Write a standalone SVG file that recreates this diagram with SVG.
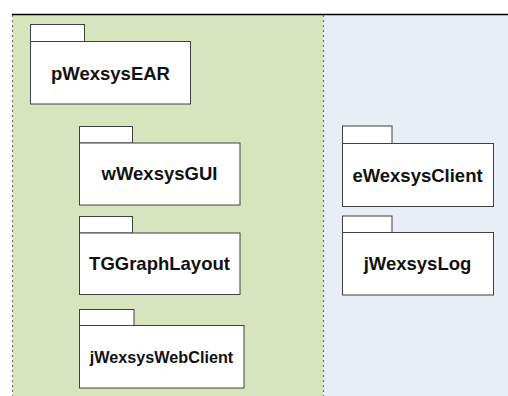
<svg xmlns="http://www.w3.org/2000/svg" width="508" height="396" viewBox="0 0 508 396">
  <style>
    .pkg rect { fill: #ffffff; stroke: #404040; stroke-width: 1; }
    .pkg text { font-family: "Liberation Sans", Arial, sans-serif; font-weight: bold; fill: #111111; text-anchor: middle; }
    .lane-sep { stroke: #707070; stroke-width: 1.2; stroke-dasharray: 2 3; fill: none; }
  </style>
  <rect width="508" height="396" fill="#ffffff"/>
  <!-- swimlane backgrounds -->
  <rect x="12.5" y="14.5" width="310.5" height="382" fill="#D7E4BD"/>
  <rect x="323" y="14.5" width="185" height="382" fill="#E9EDF5"/>
  <line class="lane-sep" x1="12.5" y1="15" x2="12.5" y2="396"/>
  <line class="lane-sep" x1="323.5" y1="15" x2="323.5" y2="396"/>
  <line x1="12" y1="14.5" x2="508" y2="14.5" stroke="#000000" stroke-width="1.5"/>

  <g id="pWexsysEAR" class="pkg">
    <rect x="30.5" y="24.5" width="54" height="17"/>
    <rect x="30.5" y="41.5" width="160" height="62.5"/>
    <text x="110.5" y="80" font-size="18.5">pWexsysEAR</text>
  </g>
  <g id="wWexsysGUI" class="pkg">
    <rect x="79.5" y="126.5" width="53" height="16.5"/>
    <rect x="79.5" y="143" width="160.5" height="62"/>
    <text x="159.5" y="180" font-size="18.5">wWexsysGUI</text>
  </g>
  <g id="TGGraphLayout" class="pkg">
    <rect x="79.5" y="216.5" width="53" height="16.5"/>
    <rect x="79.5" y="233" width="160.5" height="61.5"/>
    <text x="159.5" y="270" font-size="18.5">TGGraphLayout</text>
  </g>
  <g id="jWexsysWebClient" class="pkg">
    <rect x="79.5" y="309.5" width="54.5" height="16"/>
    <rect x="79.5" y="325.5" width="164.5" height="62.5"/>
    <text x="161.5" y="363" font-size="16.2">jWexsysWebClient</text>
  </g>
  <g id="eWexsysClient" class="pkg">
    <rect x="342.5" y="126" width="49.5" height="17.5"/>
    <rect x="342.5" y="143.5" width="151" height="63"/>
    <text x="417.5" y="181.5" font-size="18.5">eWexsysClient</text>
  </g>
  <g id="jWexsysLog" class="pkg">
    <rect x="342.5" y="216" width="49.5" height="16.5"/>
    <rect x="342.5" y="232.5" width="151" height="62.5"/>
    <text x="417.5" y="270" font-size="18.5">jWexsysLog</text>
  </g>
</svg>
